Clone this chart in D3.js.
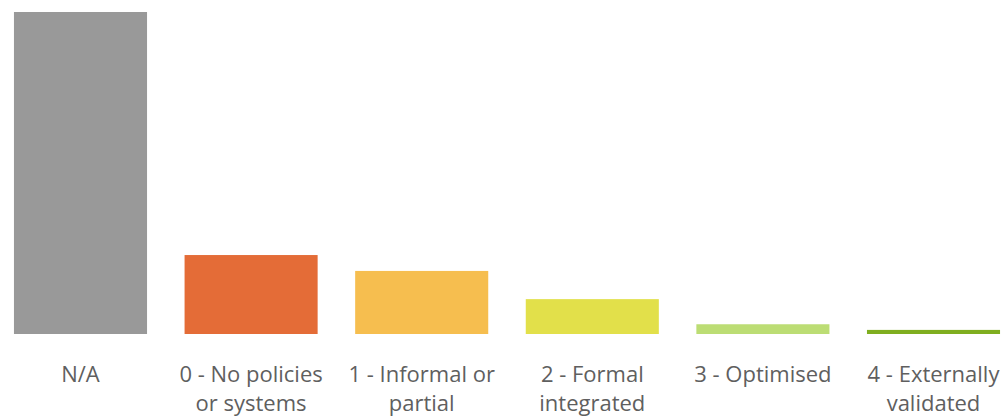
<!DOCTYPE html>
<html>
<head>
<meta charset="utf-8">
<script src="https://cdn.jsdelivr.net/npm/d3@7"></script>
<style>
  html, body { margin: 0; padding: 0; background: #ffffff; }
  svg { display: block; }
  .label { font-family: "Open Sans", "Noto Sans", sans-serif; font-size: 22px; fill: #5f5f5f; }
</style>
</head>
<body>
<svg id="chart" width="1008" height="418"></svg>
<script>
// Maturity levels (share of responses, %)
const categories = ["N/A", "0 - No policies or systems", "1 - Informal or partial", "2 - Formal integrated", "3 - Optimised", "4 - Externally validated"];
const labelLines = [["N/A"], ["0 - No policies", "or systems"], ["1 - Informal or", "partial"], ["2 - Formal", "integrated"], ["3 - Optimised"], ["4 - Externally", "validated"]];
const values = [62.8, 15.4, 12.3, 6.8, 1.9, 0.8];
const colors = ["#999999", "#E46C37", "#F6BE4F", "#E2E04A", "#BCDD74", "#7FAE1F"];

const svg = d3.select("#chart");

const x = d3.scaleBand()
  .domain(categories)
  .range([-4.8, 1018.8])
  .paddingInner(0.22)
  .paddingOuter(0.11);

const y = d3.scaleLinear()
  .domain([0, 62.8])
  .range([334, 12]);

svg.append("g")
  .selectAll("rect")
  .data(categories)
  .join("rect")
  .attr("x", d => x(d))
  .attr("width", x.bandwidth())
  .attr("y", (d, i) => y(values[i]))
  .attr("height", (d, i) => y(0) - y(values[i]))
  .attr("fill", (d, i) => colors[i]);

const labels = svg.append("g")
  .selectAll("text")
  .data(categories)
  .join("text")
  .attr("class", "label")
  .attr("text-anchor", "middle")
  .attr("x", d => x(d) + x.bandwidth() / 2)
  .attr("y", 382);

labels.each(function(d, i) {
  const t = d3.select(this);
  labelLines[i].forEach((line, j) => {
    t.append("tspan")
      .attr("x", x(d) + x.bandwidth() / 2)
      .attr("y", 382 + j * 28.5)
      .text(line);
  });
});
</script>
</body>
</html>
